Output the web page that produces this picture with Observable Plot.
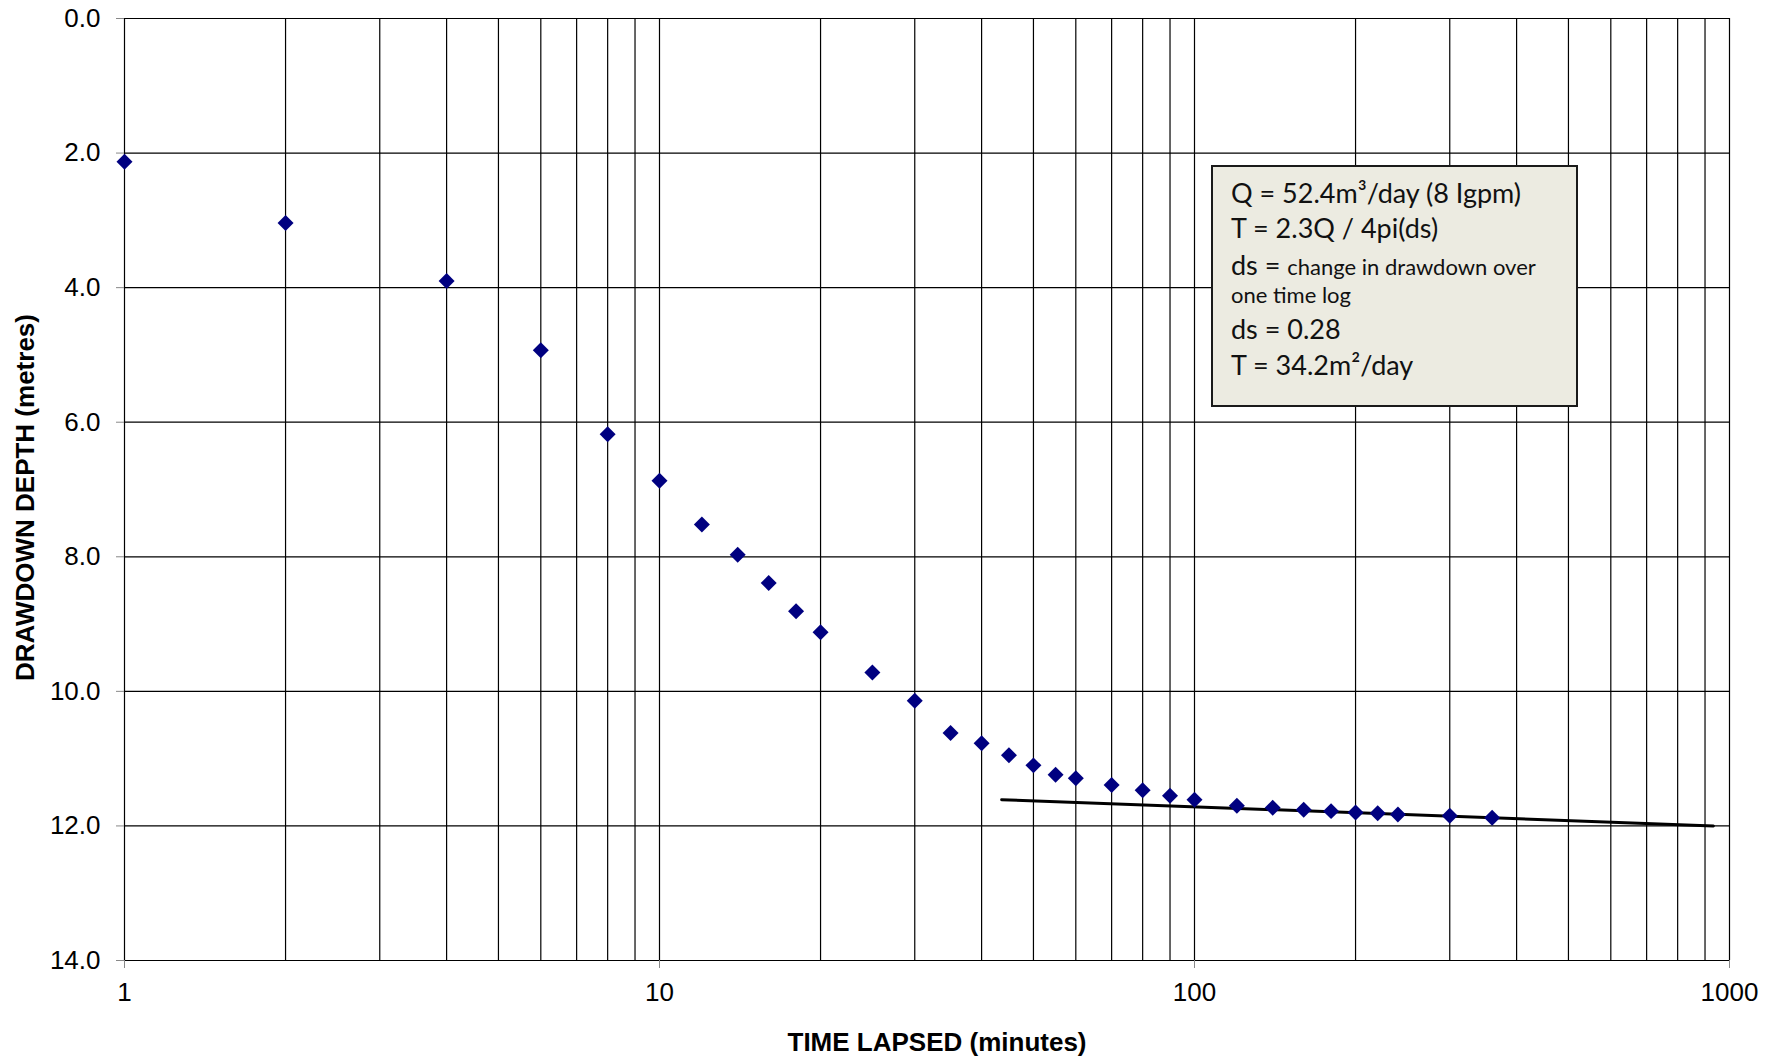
<!DOCTYPE html>
<html>
<head>
<meta charset="utf-8">
<script src="https://cdn.jsdelivr.net/npm/d3@7"></script>
<script src="https://cdn.jsdelivr.net/npm/@observablehq/plot@0.6"></script>
<style>
  html, body { margin: 0; padding: 0; background: #fff; }
  #wrap { position: relative; width: 1782px; height: 1060px; }
  #note {
    position: absolute; left: 1211px; top: 165px; width: 367px; height: 242px;
    box-sizing: border-box; background: #ECEBE1; border: 2px solid #1a1a1a;
    font-family: Lato, "Open Sans", sans-serif; color: #111;
  }
  #note div { position: absolute; left: 18px; white-space: nowrap; line-height: 1; }
  .big { font-size: 27px; }
  .small { font-size: 22px; }
</style>
</head>
<body>
<div id="wrap"></div>
<script>
// Data
const timeMinutes = [1, 2, 4, 6, 8, 10, 12, 14, 16, 18, 20, 25, 30, 35, 40, 45, 50, 55, 60, 70, 80, 90, 100, 120, 140, 160, 180, 200, 220, 240, 300, 360];
const drawdownDepth = [2.13, 3.04, 3.90, 4.93, 6.18, 6.87, 7.52, 7.97, 8.39, 8.81, 9.12, 9.72, 10.14, 10.62, 10.77, 10.95, 11.10, 11.24, 11.29, 11.39, 11.47, 11.55, 11.61, 11.70, 11.73, 11.76, 11.78, 11.80, 11.81, 11.83, 11.85, 11.88];

// Straight-line fit drawn on the chart
const fitTime = [43.6, 933];
const fitDepth = [11.61, 12.0];

// Axis ticks and gridlines
const xTickValues = [1, 10, 100, 1000];
const xGridValues = [1, 2, 3, 4, 5, 6, 7, 8, 9, 10, 20, 30, 40, 50, 60, 70, 80, 90, 100, 200, 300, 400, 500, 600, 700, 800, 900, 1000];
const yTickValues = [0, 2, 4, 6, 8, 10, 12, 14];

const xTitle = "TIME LAPSED (minutes)";
const yTitle = "DRAWDOWN DEPTH (metres)";

const points = timeMinutes.map((t, i) => ({t, d: drawdownDepth[i]}));
const fit = fitTime.map((t, i) => ({t, d: fitDepth[i]}));

const chart = Plot.plot({
  width: 1782,
  height: 1060,
  marginLeft: 124,
  marginRight: 53,
  marginTop: 18,
  marginBottom: 100,
  style: {fontFamily: "'Liberation Sans', Arial, sans-serif", fontSize: "26px", background: "#fff", color: "#000", overflow: "visible"},
  x: {type: "log", domain: [1, 1000]},
  y: {domain: [0, 14], reverse: true},
  marks: [
    Plot.ruleX(xGridValues, {stroke: "#000", strokeWidth: 1.2}),
    Plot.ruleY(yTickValues, {stroke: "#000", strokeWidth: 1.2}),
    Plot.axisX(xTickValues, {tickSize: 8, tickPadding: 14, stroke: "#888", fill: "#000", tickFormat: d => String(d), label: null}),
    Plot.axisY(yTickValues, {tickSize: 8, tickPadding: 16, stroke: "#888", fill: "#000", tickFormat: d => d.toFixed(1), label: null}),
    Plot.line(fit, {x: "t", y: "d", stroke: "#000", strokeWidth: 3}),
    Plot.dot(points, {x: "t", y: "d", symbol: "diamond2", r: 7.2, fill: "#000080", stroke: "none"}),
    Plot.text([xTitle], {frameAnchor: "bottom", textAnchor: "middle", lineAnchor: "middle", dy: 82, dx: 10, fontWeight: "bold", fontSize: 26}),
    Plot.text([yTitle], {frameAnchor: "left", textAnchor: "middle", lineAnchor: "middle", rotate: -90, dx: -99, dy: 8, fontWeight: "bold", fontSize: 26})
  ]
});

const wrap = document.getElementById("wrap");
wrap.appendChild(chart);

const note = document.createElement("div");
note.id = "note";
note.innerHTML = `
  <div class="big" style="top:12px">Q = 52.4m³/day (8 Igpm)</div>
  <div class="big" style="top:47px">T = 2.3Q / 4pi(ds)</div>
  <div class="big" style="top:84px">ds = <span class="small">change in drawdown over</span></div>
  <div class="small" style="top:116.5px">one time log</div>
  <div class="big" style="top:148px">ds = 0.28</div>
  <div class="big" style="top:184px">T = 34.2m²/day</div>`;
wrap.appendChild(note);
</script>
</body>
</html>
